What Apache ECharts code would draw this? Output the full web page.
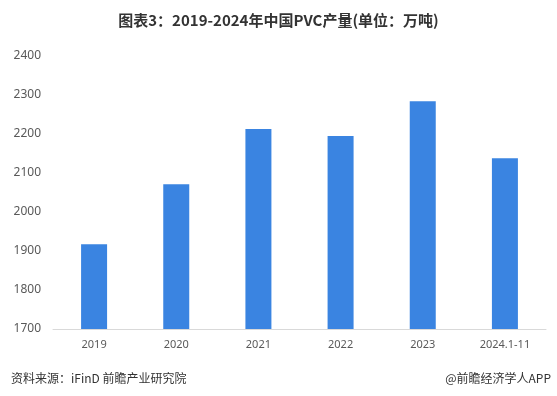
<!DOCTYPE html>
<html><head><meta charset="utf-8">
<script src="https://cdn.jsdelivr.net/npm/echarts@6/dist/echarts.min.js"></script>
<style>html,body{margin:0;padding:0;background:#fff}#c{width:557px;height:396px}</style>
</head><body><div id="c"></div>
<script>
const categories = ['2019','2020','2021','2022','2023','2024.1-11'];
const production = [1917, 2071, 2213, 2195, 2284, 2138];
const yTicks = {min:1700, max:2400, interval:100};
const chart = echarts.init(document.getElementById('c'));
chart.setOption({
  animation:false,
  title:[{text:'图表3：2019-2024年中国PVC产量(单位：万吨)',left:'center',top:8,
    textStyle:{fontSize:15,fontWeight:'bold',color:'#333',fontFamily:'Noto Sans CJK SC'}},
    {text:'资料来源：iFinD 前瞻产业研究院',left:6,top:367,
    textStyle:{fontSize:12,fontWeight:'normal',color:'#333',fontFamily:'Noto Sans CJK SC'}},
    {text:'@前瞻经济学人APP',right:1,top:367,
    textStyle:{fontSize:12,fontWeight:'normal',color:'#333',fontFamily:'Noto Sans CJK SC'}}],
  grid:{left:53,right:11,top:56,bottom:67},
  xAxis:{type:'category',data:categories,
    axisLine:{lineStyle:{color:'#d9d9d9'}},axisTick:{show:false},
    axisLabel:{color:'#595959',fontSize:11,margin:10,fontFamily:'Noto Sans'}},
  yAxis:{type:'value',min:yTicks.min,max:yTicks.max,interval:yTicks.interval,
    splitLine:{show:false},axisLine:{show:false},axisTick:{show:false},
    axisLabel:{color:'#595959',fontSize:12,margin:12,fontFamily:'Noto Sans',formatter:v=>String(v)}},
  series:[{type:'bar',data:production,barWidth:26,itemStyle:{color:'#3a84e1'}}]
});
</script></body></html>
